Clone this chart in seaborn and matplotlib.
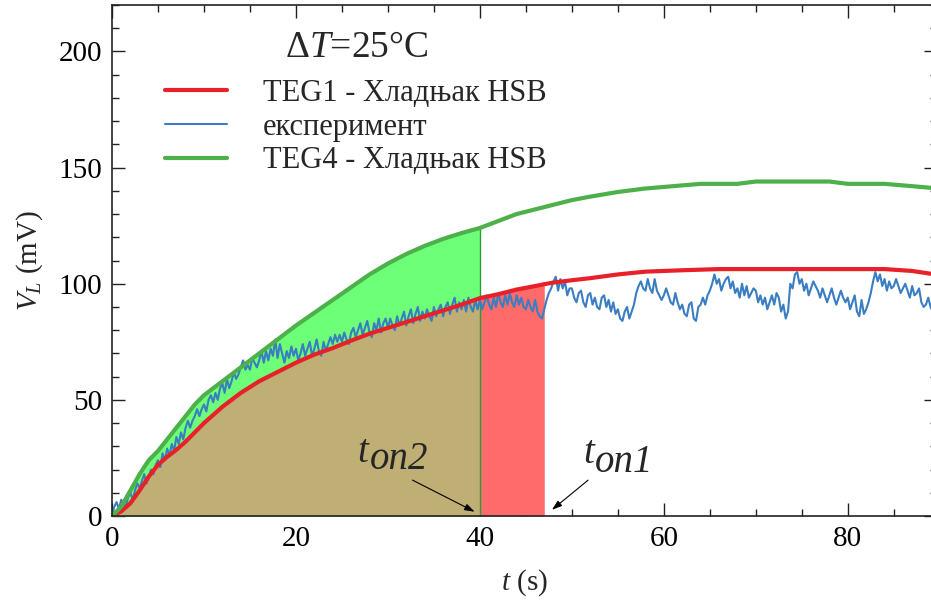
import numpy as np
import pandas as pd
import matplotlib.pyplot as plt
import seaborn as sns
from matplotlib.ticker import MultipleLocator

# TEG1 model, heat sink HSB
teg1_t = [0, 1, 2, 3, 4, 5, 6, 7, 8, 9, 10, 12, 14, 16, 18, 20, 22, 24, 26, 28, 30,
          32, 34, 36, 38, 40, 42, 44, 46, 47, 48, 50, 52, 55, 58, 62, 66, 70, 75,
          80, 84, 87, 89, 90]
teg1_v = [0, 2, 5.5, 11, 17, 22, 25.5, 28.5, 32, 36, 40, 47, 53, 58, 62, 66, 69.5,
          72.3, 75.5, 78.5, 81, 83.5, 86, 88.5, 91, 93.8, 95.5, 97.5, 99, 99.8, 100.5,
          101.5, 102.4, 104, 105.2, 105.8, 106.3, 106.3, 106.3, 106.3, 106.3, 105.5,
          104.3, 104]

# TEG4 model, heat sink HSB
teg4_t = [0, 1, 2, 3, 4, 5, 6, 7, 8, 9, 10, 12, 14, 16, 18, 20, 22, 24, 26, 28, 30,
          32, 34, 36, 38, 40, 42, 44, 46, 48, 50, 52, 55, 58, 61, 64, 68, 70, 78, 80,
          84, 87, 89, 90]
teg4_v = [0, 4, 11, 18, 24, 28, 33, 38, 43, 48, 52, 58, 64, 70, 76, 82, 87.5, 93, 98.5,
          104, 108.7, 112.8, 116.3, 119.3, 121.8, 124, 127, 130, 132, 134, 136, 137.5,
          139.5, 141, 142, 143, 143, 144, 144, 143, 143, 142, 141.3, 141]

# experiment, sampled every 0.25 s
exp_dt = 0.25
exp_v = [
    0, 4, 6, 3, 7, 5, 4, 8, 10, 7, 11, 14, 12, 15, 18, 14, 17, 20, 18, 22,
    24, 21, 27, 24, 29, 26, 31, 28, 34, 31, 36, 33, 38, 41, 38, 41, 43, 46, 43, 46,
    48, 45, 50, 52, 49, 53, 50, 55, 57, 53, 59, 55, 58, 62, 59, 61, 64, 67, 63, 65,
    63, 68, 66, 64, 67, 71, 66, 71, 67, 72, 69, 76, 68, 74, 70, 66, 71, 68, 73, 69,
    72, 67, 70, 74, 69, 72, 75, 69, 72, 76, 71, 69, 75, 71, 74, 77, 74, 78, 75, 78,
    75, 79, 76, 74, 79, 81, 77, 80, 83, 78, 81, 84, 79, 77, 83, 80, 85, 79, 83, 85,
    81, 85, 82, 80, 86, 82, 85, 88, 82, 86, 89, 83, 87, 90, 84, 88, 85, 89, 86, 84,
    90, 86, 89, 91, 86, 90, 92, 87, 91, 94, 88, 92, 89, 93, 88, 94, 90, 88, 93, 89,
    93, 89, 92, 95, 91, 89, 94, 90, 96, 92, 90, 95, 91, 96, 92, 90, 95, 91, 94, 90,
    89, 93, 90, 88, 93, 88, 86, 85, 89, 93, 96, 98, 101, 103, 97, 102, 98, 101, 95, 98,
    98, 94, 92, 96, 97, 92, 90, 95, 96, 91, 94, 90, 89, 94, 95, 90, 93, 88, 92, 87,
    89, 85, 84, 88, 90, 85, 88, 91, 96, 99, 101, 98, 97, 102, 98, 96, 102, 97, 95, 93,
    95, 98, 95, 92, 91, 96, 92, 89, 91, 87, 86, 91, 92, 85, 84, 90, 91, 94, 91, 95,
    97, 100, 104, 100, 102, 97, 100, 102, 103, 98, 101, 96, 98, 94, 100, 95, 99, 94, 96, 98,
    97, 92, 95, 91, 94, 89, 92, 95, 91, 96, 94, 88, 91, 85, 88, 100, 98, 104, 105, 100,
    102, 97, 100, 95, 98, 101, 99, 97, 94, 98, 95, 92, 95, 98, 94, 91, 94, 97, 94, 92,
    94, 89, 92, 95, 88, 86, 93, 87, 89, 92, 96, 101, 105, 101, 104, 99, 102, 97, 101, 98,
    99, 102, 99, 96, 98, 100, 97, 94, 99, 95, 96, 98, 92, 90, 91, 94, 90, 88, 93, 89,
]

t_on2 = 40
t_on1 = 47

teg1 = pd.DataFrame({'t': teg1_t, 'v': teg1_v})
teg4 = pd.DataFrame({'t': teg4_t, 'v': teg4_v})
exp = pd.DataFrame({'t': np.arange(len(exp_v)) * exp_dt, 'v': exp_v})

sns.set_style('ticks')
plt.rcParams['font.family'] = ['Liberation Serif', 'DejaVu Serif']
plt.rcParams['mathtext.fontset'] = 'custom'
plt.rcParams['mathtext.rm'] = 'Liberation Serif'
plt.rcParams['mathtext.it'] = 'Liberation Serif:italic'

fig = plt.figure(figsize=(9.31, 6.05), dpi=100)
ax = fig.add_axes([112 / 931, 89 / 605, 825 / 931, 511 / 605])

# shaded areas
g = teg4[teg4.t <= t_on2]
ax.fill_between(g.t, 0, g.v, color='#6EFF78', lw=0)
r = teg1[teg1.t <= t_on2]
ax.fill_between(r.t, 0, r.v, color='#BFAF74', lw=0)
r = teg1[(teg1.t >= t_on2) & (teg1.t <= t_on1)]
ax.fill_between(r.t, 0, r.v, color='#FF6B6B', lw=0)
ax.vlines(t_on2, 0, teg4.v[teg4.t == t_on2].iloc[0], color='#2F9A3A', lw=1)

sns.lineplot(data=exp, x='t', y='v', ax=ax, color='#3A7DC1', lw=1.5,
             label='експеримент')
sns.lineplot(data=teg1, x='t', y='v', ax=ax, color='#E8202A', lw=3,
             label='TEG1 - Хладњак HSB')
sns.lineplot(data=teg4, x='t', y='v', ax=ax, color='#4DB04A', lw=3,
             label='TEG4 - Хладњак HSB')

h, l = ax.get_legend_handles_labels()
order = [1, 0, 2]
ax.legend([h[i] for i in order], [l[i] for i in order],
          loc='upper left', bbox_to_anchor=(0.064, 0.855), frameon=False,
          fontsize=22, handlelength=2.05, handletextpad=1.15,
          labelspacing=0.15, borderpad=0, borderaxespad=0)
ax.text(0.297, 0.916, r'Δ$T$=25°C', transform=ax.transAxes, fontsize=27,
        ha='center', va='center')

# t_on annotations
arrow = dict(arrowstyle='-|>,head_length=0.6,head_width=0.2', color='black', lw=0.8)
ax.annotate('', xy=(39.7, 1.3), xytext=(32.4, 16), arrowprops=arrow)
ax.text(26.7, 23.3, 't', fontsize=28, style='italic')
ax.text(28.0, 20.3, 'on2', fontsize=28, style='italic')
ax.annotate('', xy=(47.6, 1.9), xytext=(52.0, 16.2), arrowprops=arrow)
ax.text(51.2, 22.8, 't', fontsize=28, style='italic')
ax.text(52.5, 19.0, 'on1', fontsize=28, style='italic')

ax.set_xlim(0, 89.7)
ax.set_ylim(0, 220)
ax.xaxis.set_major_locator(MultipleLocator(20))
ax.xaxis.set_minor_locator(MultipleLocator(5))
ax.yaxis.set_major_locator(MultipleLocator(50))
ax.yaxis.set_minor_locator(MultipleLocator(10))
ax.tick_params(which='both', direction='in', top=True, right=True,
               colors='#222222', labelcolor='black')
ax.tick_params(which='major', length=9.5, width=1, labelsize=21, pad=7)
ax.tick_params(which='minor', length=5, width=1)
for s in ax.spines.values():
    s.set_linewidth(1.2)
    s.set_color('#222222')

ax.set_xlabel(r'$t$ (s)', fontsize=21, labelpad=11)
ax.set_ylabel(r'$V_L$ (mV)', fontsize=21, labelpad=10)

fig.savefig('out.png', dpi=100)
